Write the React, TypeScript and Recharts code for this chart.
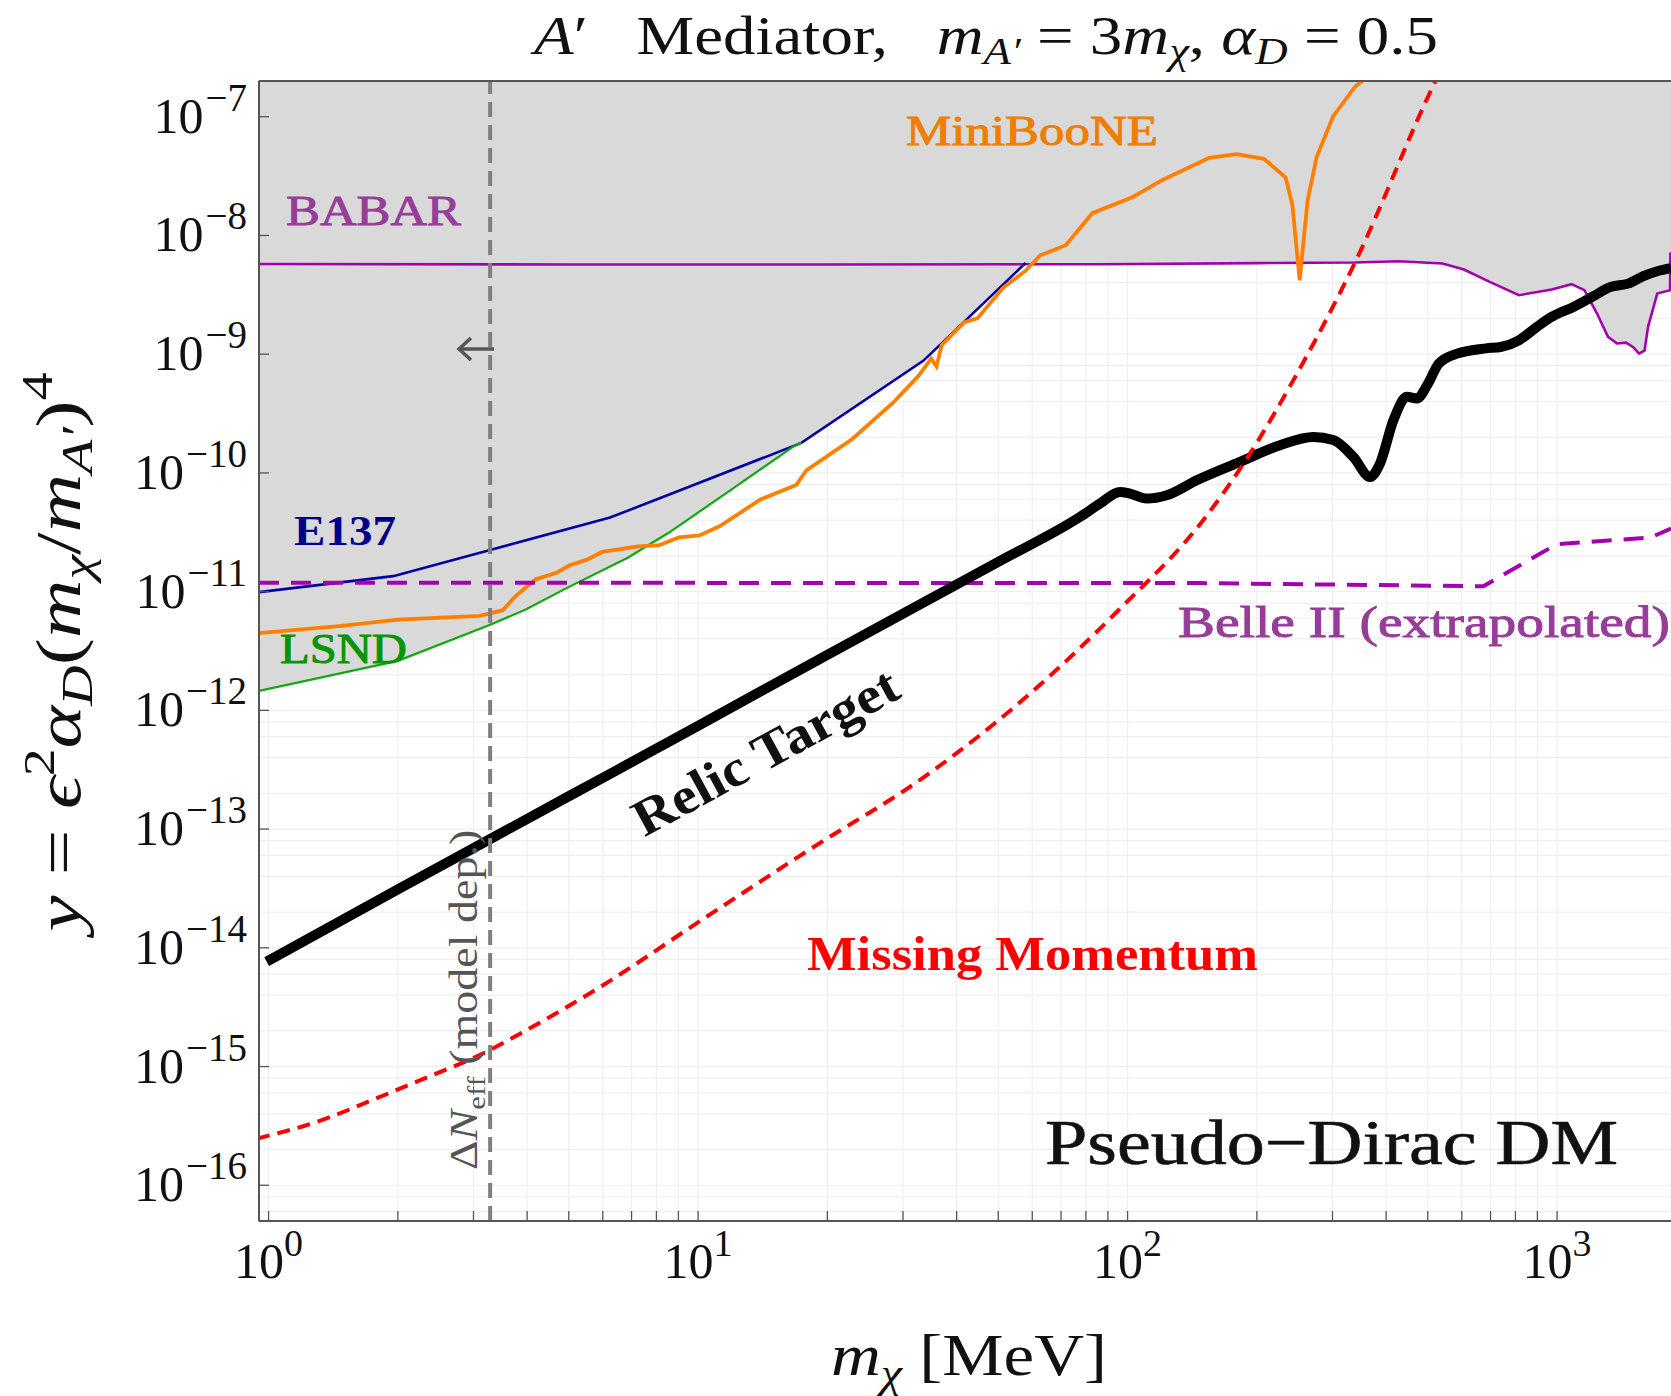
import React from 'react';
import {
  ComposedChart,
  Line,
  Area,
  XAxis,
  YAxis,
  CartesianGrid,
  ReferenceLine,
} from 'recharts';

type Pt = [number, number];

const SERIF = "'Liberation Serif', 'Times New Roman', serif";

// axis ranges
const X_MIN = 0.95;
const X_MAX = 1842;
const Y_MIN = 5e-17;
const Y_MAX = 2e-7;

// tick / grid values
const X_DECADES = [1, 10, 100, 1000];
const X_MANT = [1, 2, 3, 4, 5, 6, 7, 8, 9];
const Y_EXPS = [-17, -16, -15, -14, -13, -12, -11, -10, -9, -8, -7];
const Y_MANT = [1, 2, 4, 6, 8];

const X_TICKS = X_DECADES.flatMap((d) => X_MANT.map((m) => m * d)).filter(
  (v) => v >= X_MIN && v <= X_MAX,
);
const Y_TICKS = Y_EXPS.flatMap((e) => Y_MANT.map((m) => m * 10 ** e)).filter(
  (v) => v >= Y_MIN && v <= Y_MAX,
);

// Delta N_eff bound (vertical dashed line)
const DNEFF_X = 3.28;

// curves, [m_chi (MeV), y]
const BABAR: Pt[] = [
  [0.95, 5.75e-9], [5, 5.7e-9], [20, 5.7e-9], [86.3, 5.73e-9], [200, 5.85e-9],
  [338, 5.92e-9], [428, 6.07e-9], [541, 5.81e-9], [607, 5.17e-9], [697, 4.06e-9],
  [815, 3.14e-9], [972, 3.51e-9], [1081, 3.89e-9], [1158, 3.46e-9], [1239, 2.2e-9],
  [1314, 1.4e-9], [1380, 1.23e-9], [1448, 1.25e-9], [1507, 1.14e-9], [1552, 1.01e-9],
  [1598, 1.07e-9], [1629, 1.7e-9], [1711, 3.24e-9], [1833, 3.46e-9], [1836, 7.05e-9],
  [1900, 7.5e-9],
];

const E137: Pt[] = [
  [0.95, 9.9e-12], [1.95, 1.35e-11], [3.28, 2.24e-11], [6.24, 4.21e-11],
  [8.78, 6.8e-11], [17.4, 1.79e-10], [33.5, 8.83e-10], [57.9, 5.87e-9],
];

const LSND: Pt[] = [
  [0.95, 1.46e-12], [2.0, 2.61e-12], [3.28, 5.26e-12], [3.97, 7.08e-12],
  [4.94, 1.07e-11], [6.86, 1.93e-11], [8.54, 3.13e-11], [11.86, 7.08e-11],
  [16.9, 1.73e-10], [17.4, 1.79e-10],
];

const MINIBOONE: Pt[] = [
  [0.95, 4.47e-12], [1.48, 5.15e-12], [2.0, 5.8e-12], [3.1, 6.24e-12], [3.51, 6.98e-12],
  [3.76, 9.18e-12], [4.19, 1.27e-11], [4.68, 1.44e-11], [5.01, 1.66e-11], [5.51, 1.86e-11],
  [5.98, 2.16e-11], [7.25, 2.41e-11], [8.09, 2.45e-11], [9.02, 2.86e-11], [10.07, 2.97e-11],
  [11.22, 3.55e-11], [13.97, 5.97e-11], [16.92, 7.91e-11], [17.87, 1.05e-10],
  [22.86, 1.93e-10], [28.45, 3.9e-10], [32.6, 6.56e-10], [34.9, 9.16e-10], [35.9, 7.89e-10],
  [36.9, 1.19e-9], [41.7, 1.86e-9], [44.7, 2.0e-9], [51.3, 3.62e-9], [57.9, 5.05e-9],
  [62.6, 6.8e-9], [71.8, 8.27e-9], [82.8, 1.54e-8], [102.9, 2.11e-8], [120.3, 2.92e-8],
  [154.9, 4.51e-8], [179.4, 4.84e-8], [207.8, 4.42e-8], [233.4, 3.08e-8], [242, 1.8e-8],
  [251.6, 4.2e-9], [262.6, 1.98e-8], [275.7, 4.6e-8], [300.8, 1.0e-7], [338.5, 1.79e-7],
  [351.6, 2.0e-7], [370, 2.3e-7],
];

const BELLE2: Pt[] = [
  [0.95, 1.19e-11], [147.6, 1.18e-11], [673.6, 1.11e-11], [998, 2.51e-11],
  [1647, 2.85e-11], [1842, 3.4e-11],
];

const RELIC: Pt[] = [
  [0.99, 7.65e-15], [2, 3.1e-14], [5, 1.89e-13], [10, 7.4e-13], [20, 2.94e-12],
  [50, 1.78e-11], [77.5, 4.26e-11], [86.3, 5.52e-11], [96, 6.92e-11], [101.3, 6.7e-11],
  [110.8, 6.08e-11], [123.4, 6.49e-11], [144.9, 8.67e-11], [182.8, 1.24e-10],
  [226.5, 1.71e-10], [270.7, 2.01e-10], [301.3, 1.89e-10], [335.6, 1.36e-10],
  [367, 9.25e-11], [387, 1.2e-10], [416, 2.78e-10], [447, 4.37e-10], [471.5, 4.23e-10],
  [500, 5.6e-10], [530, 8.3e-10], [585, 1.01e-9], [683, 1.12e-9], [739, 1.15e-9],
  [815, 1.31e-9], [898, 1.7e-9], [971, 2.06e-9], [1092, 2.5e-9], [1215, 3.08e-9],
  [1328, 3.67e-9], [1463, 3.93e-9], [1588, 4.54e-9], [1711, 5.0e-9], [1842, 5.3e-9],
];

const MISSING_MOMENTUM: Pt[] = [
  [0.94, 2.47e-16], [1.34, 3.57e-16], [1.75, 5.25e-16], [2.25, 7.65e-16],
  [3.28, 1.38e-15], [3.85, 1.89e-15], [5.81, 4.49e-15], [10.3, 1.76e-14],
  [18.2, 6.74e-14], [34.2, 2.87e-13], [58.8, 1.35e-12], [95.5, 7.04e-12],
  [150, 4.0e-11], [188.5, 1.28e-10], [243, 6.0e-10], [338.5, 5.92e-9],
  [520, 1.97e-7], [540, 2.6e-7],
];

// lower edge of the grey excluded region
const SHADE_EDGE: Pt[] = [
  [0.95, 1.46e-12], [2.0, 2.61e-12], [3.28, 5.26e-12], [3.97, 7.08e-12],
  [4.94, 1.07e-11], [6.86, 1.93e-11], [8.54, 3.13e-11], [11.86, 7.08e-11],
  [17.4, 1.79e-10], [33.5, 8.83e-10], [57.9, 5.8e-9], [86.3, 5.73e-9], [200, 5.85e-9],
  [338, 5.92e-9], [428, 6.07e-9], [541, 5.81e-9], [607, 5.17e-9], [697, 4.06e-9],
  [815, 3.14e-9], [972, 3.51e-9], [1081, 3.89e-9], [1158, 3.46e-9], [1239, 2.2e-9],
  [1314, 1.4e-9], [1380, 1.23e-9], [1448, 1.25e-9], [1507, 1.14e-9], [1552, 1.01e-9],
  [1598, 1.07e-9], [1629, 1.7e-9], [1711, 3.24e-9], [1833, 3.46e-9], [1836, 7.05e-9],
  [1900, 7.5e-9],
];

const toRows = (pts: Pt[]) => pts.map(([x, y]) => ({ x, y }));
const shadeRows = SHADE_EDGE.map(([x, y]) => ({ x, band: [y, Y_MAX] }));

const isDecade = (v: number) => {
  const e = Math.log10(v);
  return Math.abs(e - Math.round(e)) < 1e-6;
};
const expText = (v: number) => {
  const e = Math.round(Math.log10(v));
  return e < 0 ? `\u2212${-e}` : `${e}`;
};

function XTick(props: any) {
  const { x, y, payload } = props;
  const v = payload.value;
  return (
    <g>
      <line x1={x} x2={x} y1={y} y2={y - 10} stroke="#555" strokeWidth={1.3} />
      {isDecade(v) && (
        <text x={x} y={y + 57} textAnchor="middle" fontFamily={SERIF} fill="#111">
          <tspan fontSize={50}>10</tspan>
          <tspan fontSize={38} dy={-22}>{expText(v)}</tspan>
        </text>
      )}
    </g>
  );
}

function YTick(props: any) {
  const { x, y, payload } = props;
  const v = payload.value;
  if (!isDecade(v)) return <g />;
  return (
    <g>
      <line x1={x} x2={x + 10} y1={y} y2={y} stroke="#555" strokeWidth={1.3} />
      <text x={x - 12} y={y + 16} textAnchor="end" fontFamily={SERIF} fill="#111">
        <tspan fontSize={50}>10</tspan>
        <tspan fontSize={39} dx={2} dy={-22}>{expText(v)}</tspan>
      </text>
    </g>
  );
}

// texts and the arrow, drawn over the chart in page coordinates
function Annotations() {
  const sub = 38;
  return (
    <svg
      width={1671}
      height={1396}
      style={{ position: 'absolute', left: 0, top: 0, pointerEvents: 'none' }}
    >
      <g fontFamily={SERIF} style={{ whiteSpace: 'pre' }}>
        {/* title */}
        <g transform="translate(986,54) scale(1.18,1)">
          <text x={0} y={0} textAnchor="middle" fontSize={55} fill="#111">
            <tspan fontStyle="italic">A</tspan>
            <tspan>{'\u2032\u2002 Mediator,\u2002 '}</tspan>
            <tspan fontStyle="italic">m</tspan>
            <tspan fontStyle="italic" fontSize={sub} dy={10}>{'A\u2032'}</tspan>
            <tspan dy={-10}>{' = 3'}</tspan>
            <tspan fontStyle="italic">m</tspan>
            <tspan fontStyle="italic" fontSize={sub} dy={10}>{'\u03c7'}</tspan>
            <tspan dy={-10}>{',  '}</tspan>
            <tspan fontStyle="italic">{'\u03b1'}</tspan>
            <tspan fontStyle="italic" fontSize={sub} dy={10}>D</tspan>
            <tspan dy={-10}>{' = 0.5'}</tspan>
          </text>
        </g>

        {/* y axis label */}
        <g transform="translate(80,652) rotate(-90) scale(1.27,1)">
          <text x={0} y={0} textAnchor="middle" fontSize={64} fill="#111">
            <tspan fontStyle="italic">y</tspan>
            <tspan>{' = '}</tspan>
            <tspan fontStyle="italic">{'\u03f5'}</tspan>
            <tspan fontSize={44} dy={-26}>2</tspan>
            <tspan fontStyle="italic" dy={26}>{'\u03b1'}</tspan>
            <tspan fontStyle="italic" fontSize={44} dy={12}>D</tspan>
            <tspan dy={-12}>(</tspan>
            <tspan fontStyle="italic">m</tspan>
            <tspan fontStyle="italic" fontSize={44} dy={12}>{'\u03c7'}</tspan>
            <tspan dy={-12}>/</tspan>
            <tspan fontStyle="italic">m</tspan>
            <tspan fontStyle="italic" fontSize={44} dy={12}>{'A\u2032'}</tspan>
            <tspan dy={-12}>)</tspan>
            <tspan fontSize={44} dy={-28}>4</tspan>
          </text>
        </g>

        {/* x axis label */}
        <g transform="translate(969,1375) scale(1.15,1)">
          <text x={0} y={0} textAnchor="middle" fontSize={60} fill="#111">
            <tspan fontStyle="italic">m</tspan>
            <tspan fontStyle="italic" fontSize={42} dy={12}>{'\u03c7'}</tspan>
            <tspan dy={-12}>{' [MeV]'}</tspan>
          </text>
        </g>

        {/* curve labels */}
        <text x={286} y={225} fontSize={43} fill="#973c98" stroke="#973c98" strokeWidth={0.9} textLength={175} lengthAdjust="spacingAndGlyphs">BABAR</text>
        <text x={906} y={145} fontSize={42} fill="#ef7d00" stroke="#ef7d00" strokeWidth={0.9} textLength={252} lengthAdjust="spacingAndGlyphs">MiniBooNE</text>
        <text x={294} y={545} fontSize={42} fontWeight="bold" fill="#00008b" textLength={102} lengthAdjust="spacingAndGlyphs">E137</text>
        <text x={280} y={663} fontSize={42} fill="#079407" stroke="#079407" strokeWidth={0.9} textLength={127} lengthAdjust="spacingAndGlyphs">LSND</text>
        <text x={1178} y={637} fontSize={45} fill="#973c98" stroke="#973c98" strokeWidth={0.9} textLength={492} lengthAdjust="spacingAndGlyphs">Belle II (extrapolated)</text>
        <text x={807} y={970} fontSize={48} fontWeight="bold" fill="#ff0000" textLength={451} lengthAdjust="spacingAndGlyphs">Missing Momentum</text>
        <text x={1045} y={1164} fontSize={64} fill="#111" stroke="#111" strokeWidth={0.6} textLength={573} lengthAdjust="spacingAndGlyphs">{'Pseudo\u2212Dirac DM'}</text>
        <g transform="translate(765,751) rotate(-28.6)">
          <text x={0} y={0} dy="0.35em" textAnchor="middle" fontSize={52} fontWeight="bold" fill="#111" textLength={295} lengthAdjust="spacingAndGlyphs">Relic Target</text>
        </g>

        {/* Delta N_eff annotation */}
        <g transform="translate(477,1170) rotate(-90) scale(1.18,1)">
          <text x={0} y={0} fontSize={39} fill="#555">
            <tspan>{'\u0394'}</tspan>
            <tspan fontStyle="italic">N</tspan>
            <tspan fontSize={26} dy={8}>eff</tspan>
            <tspan dy={-8}>{' (model dep.)'}</tspan>
          </text>
        </g>
        <path d="M494,349 L459,349 M471,338 L459,349 L471,360" stroke="#555" strokeWidth={3.5} fill="none" />
      </g>
    </svg>
  );
}

export default function App() {
  return (
    <div style={{ position: 'relative', width: 1671, height: 1396, overflow: 'hidden', background: '#fff' }}>
      <style>{'html,body{margin:0;padding:0;overflow:hidden;background:#fff}'}</style>
      <ComposedChart width={1671} height={1396} margin={{ top: 81, right: 0, bottom: 0, left: 0 }}>
        <CartesianGrid stroke="#efefef" strokeWidth={1.2} />
        <XAxis
          dataKey="x"
          type="number"
          scale="log"
          domain={[X_MIN, X_MAX]}
          allowDataOverflow
          ticks={X_TICKS}
          interval={0}
          tickSize={0}
          tickMargin={0}
          tickLine={false}
          height={175}
          axisLine={{ stroke: '#555', strokeWidth: 2 }}
          tick={(p: any) => <XTick {...p} />}
        />
        <YAxis
          type="number"
          scale="log"
          domain={[Y_MIN, Y_MAX]}
          allowDataOverflow
          ticks={Y_TICKS}
          interval={0}
          tickSize={0}
          tickMargin={0}
          tickLine={false}
          width={259}
          axisLine={{ stroke: '#555', strokeWidth: 2 }}
          tick={(p: any) => <YTick {...p} />}
        />
        <Area
          data={shadeRows}
          dataKey="band"
          type="linear"
          stroke="none"
          fill="#d9d9d9"
          fillOpacity={1}
          isAnimationActive={false}
        />
        <Line data={toRows(BABAR)} dataKey="y" type="linear" stroke="#a400ad" strokeWidth={2.6} dot={false} isAnimationActive={false} />
        <Line data={toRows(E137)} dataKey="y" type="linear" stroke="#0000a6" strokeWidth={2.6} dot={false} isAnimationActive={false} />
        <Line data={toRows(LSND)} dataKey="y" type="linear" stroke="#11a811" strokeWidth={2.2} dot={false} isAnimationActive={false} />
        <Line data={toRows(MINIBOONE)} dataKey="y" type="linear" stroke="#ff8000" strokeWidth={3.8} dot={false} isAnimationActive={false} />
        <Line data={toRows(BELLE2)} dataKey="y" type="linear" stroke="#a400ad" strokeWidth={4} strokeDasharray="20 12" dot={false} isAnimationActive={false} />
        <Line data={toRows(RELIC)} dataKey="y" type="monotone" stroke="#000" strokeWidth={10} dot={false} isAnimationActive={false} />
        <Line data={toRows(MISSING_MOMENTUM)} dataKey="y" type="monotone" stroke="#ff0000" strokeWidth={4} strokeDasharray="13 8" dot={false} isAnimationActive={false} />
        <ReferenceLine x={DNEFF_X} stroke="#808080" strokeWidth={4} strokeDasharray="15 8" ifOverflow="visible" />
        <ReferenceLine y={Y_MAX} stroke="#555" strokeWidth={2} ifOverflow="visible" />
      </ComposedChart>
      <Annotations />
    </div>
  );
}
